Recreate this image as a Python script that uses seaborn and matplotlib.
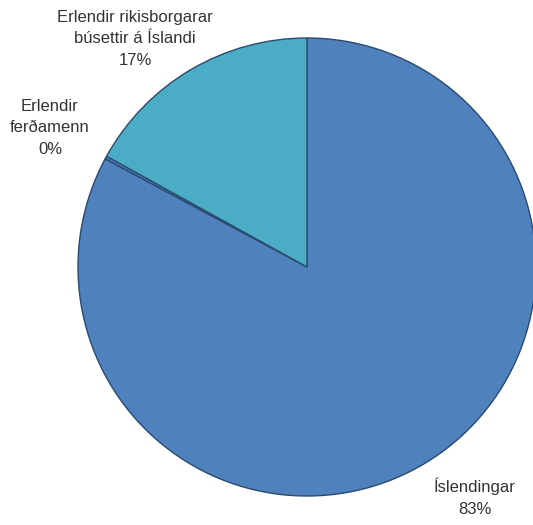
import matplotlib
matplotlib.use("Agg")
import matplotlib.pyplot as plt
import seaborn as sns

categories = ["Íslendingar", "Erlendir\nferðamenn", "Erlendir rikisborgarar\nbúsettir á Íslandi"]
values = [83, 0.2, 17]
pct_labels = ["83%", "0%", "17%"]
colors = ["#4F81BD", "#4F81BD", "#4BACC6"]

sns.set_theme(style="white")
plt.rcParams['font.family'] = ['Liberation Sans', 'DejaVu Sans']

fig = plt.figure(figsize=(5.33, 5.25), dpi=100)
ax = fig.add_axes([0, 0, 1, 1])
wedges, _ = ax.pie(values, colors=colors, startangle=90, counterclock=False,
                   radius=1.0, center=(0, 0),
                   wedgeprops=dict(edgecolor="#2a4a6e", linewidth=1.0))
ax.set_xlim(-1.3406, 0.9869)
ax.set_ylim(-1.1266, 1.1659)
ax.set_aspect("equal")
ax.axis("off")

R = 229.0
def px(x, y):
    return ((x - 307) / R, (267 - y) / R)

label_pos = [(475, 497), (50, 128), (135, 39)]
for cat, pl, (x, y) in zip(categories, pct_labels, label_pos):
    ax.text(*px(x, y), f"{cat}\n{pl}", ha="center", va="center",
            fontsize=12, color="#333333", linespacing=1.55)

fig.savefig("out.png", dpi=100)
